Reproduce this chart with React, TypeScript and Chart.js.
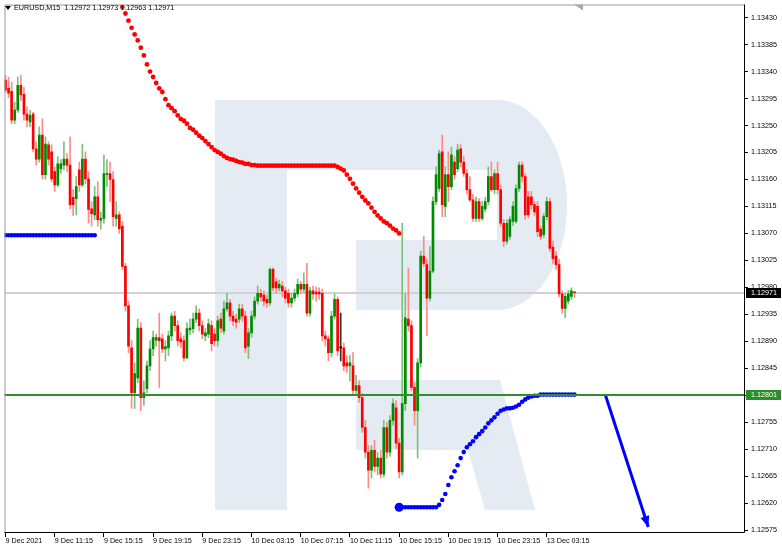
import React, { useEffect, useRef } from "react";
import { Chart, registerables } from "chart.js";
Chart.register(...registerables);

const HEADER_TEXT = "EURUSD,M15  1.12972 1.12973 1.12963 1.12971";
const TIME_LABELS = ["9 Dec 2021", "9 Dec 11:15", "9 Dec 15:15", "9 Dec 19:15", "9 Dec 23:15", "10 Dec 03:15", "10 Dec 07:15", "10 Dec 11:15", "10 Dec 15:15", "10 Dec 19:15", "10 Dec 23:15", "13 Dec 03:15"];
const TIME_LABEL_BARS = [0, 16, 32, 48, 64, 80, 96, 112, 128, 144, 160, 176];
const PRICE_TICKS = [1.12575, 1.1262, 1.12665, 1.1271, 1.12755, 1.128, 1.12845, 1.1289, 1.12935, 1.1298, 1.13025, 1.1307, 1.13115, 1.1316, 1.13205, 1.1325, 1.13295, 1.1334, 1.13385, 1.1343];

const OPEN = [1.13326,1.13312,1.13307,1.13259,1.13276,1.13317,1.13302,1.13269,1.13256,1.13269,1.13211,1.13194,1.13234,1.13168,1.13218,1.13206,1.13173,1.13151,1.13178,1.13184,1.13194,1.13184,1.1313,1.13128,1.13176,1.13151,1.13194,1.13161,1.13111,1.13101,1.13131,1.13092,1.13095,1.13168,1.1317,1.1316,1.13095,1.13101,1.13082,1.13015,1.12949,1.12879,1.12804,1.12829,1.12912,1.12796,1.12811,1.12849,1.12877,1.12892,1.12896,1.12894,1.12877,1.12879,1.12899,1.12932,1.12916,1.12894,1.12891,1.12862,1.12909,1.12911,1.12927,1.12937,1.12916,1.12899,1.12902,1.12916,1.12902,1.12891,1.12927,1.12907,1.12944,1.12954,1.12932,1.12927,1.12927,1.12944,1.12932,1.12882,1.12904,1.12932,1.12957,1.1297,1.12967,1.1296,1.12954,1.1301,1.12989,1.12979,1.12982,1.12974,1.1297,1.12954,1.12962,1.12969,1.12985,1.12977,1.12985,1.12937,1.12974,1.12972,1.12972,1.1297,1.12899,1.12894,1.12871,1.12932,1.1296,1.12879,1.12879,1.12854,1.12849,1.12849,1.12808,1.12816,1.12796,1.12746,1.12705,1.12675,1.12708,1.12681,1.12695,1.12668,1.12746,1.12705,1.12758,1.12779,1.1272,1.12672,1.12786,1.12927,1.12916,1.12813,1.12774,1.12854,1.13032,1.13018,1.12962,1.13007,1.13123,1.13145,1.13206,1.13115,1.13168,1.13148,1.13189,1.13178,1.13211,1.13189,1.1317,1.13143,1.13126,1.13095,1.13123,1.13095,1.13111,1.13123,1.13165,1.13143,1.1317,1.13143,1.13087,1.13057,1.13065,1.1309,1.1309,1.13145,1.13184,1.13165,1.13131,1.13131,1.13118,1.13115,1.13077,1.13068,1.13098,1.13123,1.13047,1.13032,1.13018,1.12969,1.12945,1.12957,1.12965,1.12972];
const HIGH = [1.13334,1.13331,1.13322,1.13289,1.13331,1.13334,1.13314,1.13281,1.13276,1.13272,1.13223,1.13248,1.13261,1.13231,1.13223,1.13218,1.13181,1.13198,1.13193,1.13223,1.13203,1.13231,1.13143,1.13165,1.13189,1.13219,1.13206,1.13173,1.13123,1.13148,1.13156,1.13106,1.13201,1.13193,1.13189,1.13173,1.13123,1.13106,1.1309,1.1302,1.12957,1.12891,1.12854,1.12927,1.12921,1.12824,1.12857,1.12891,1.12907,1.12902,1.12937,1.12902,1.12891,1.12907,1.12937,1.1294,1.12924,1.12904,1.12899,1.12921,1.12927,1.12937,1.12949,1.12944,1.12924,1.12911,1.12927,1.12924,1.12911,1.12932,1.12937,1.12957,1.1297,1.1296,1.1294,1.12935,1.12952,1.12952,1.1294,1.12911,1.1294,1.12964,1.12982,1.12977,1.12974,1.12967,1.13013,1.13013,1.12995,1.12992,1.1299,1.1298,1.12977,1.1297,1.12977,1.12994,1.1299,1.13004,1.1302,1.1298,1.12982,1.1298,1.12979,1.12977,1.12907,1.12899,1.1294,1.12969,1.12964,1.12937,1.12887,1.12866,1.12866,1.12871,1.12833,1.12824,1.12803,1.12758,1.12716,1.12716,1.12725,1.12705,1.12708,1.12758,1.12755,1.12766,1.12794,1.12791,1.12728,1.13087,1.1297,1.13012,1.12924,1.12821,1.12861,1.1304,1.13065,1.13027,1.13048,1.13131,1.13181,1.13209,1.13234,1.13181,1.13206,1.13214,1.13198,1.13219,1.13218,1.13198,1.13176,1.13165,1.13135,1.13131,1.13128,1.13123,1.1313,1.13181,1.13189,1.13176,1.13189,1.13151,1.13093,1.13093,1.13098,1.13123,1.13151,1.13189,1.13189,1.1317,1.1314,1.1314,1.13123,1.13123,1.13083,1.13103,1.1313,1.13128,1.13057,1.1304,1.13027,1.12974,1.1297,1.12975,1.12979,1.12973];
const LOW = [1.13306,1.13297,1.13253,1.13253,1.13272,1.13292,1.13259,1.13248,1.13248,1.13206,1.13184,1.13189,1.13161,1.1316,1.13184,1.13156,1.1314,1.13148,1.1317,1.13176,1.13173,1.13111,1.131,1.13101,1.1314,1.13148,1.13153,1.13087,1.13082,1.13093,1.13082,1.13077,1.13087,1.13148,1.13123,1.13082,1.13082,1.1307,1.1301,1.1294,1.12871,1.12778,1.12778,1.12821,1.12774,1.12783,1.12804,1.12841,1.12866,1.12882,1.12813,1.12871,1.12857,1.12866,1.12891,1.12907,1.12882,1.12879,1.12857,1.12861,1.12901,1.12904,1.12921,1.12907,1.12894,1.12891,1.12896,1.12874,1.12882,1.12882,1.12904,1.12902,1.1294,1.12924,1.12916,1.12912,1.12921,1.12924,1.12871,1.12861,1.12897,1.12927,1.12952,1.12957,1.12949,1.12947,1.1295,1.12974,1.1297,1.12974,1.12965,1.12954,1.12947,1.12947,1.12957,1.12964,1.1297,1.12972,1.12932,1.12932,1.1296,1.12957,1.1296,1.12891,1.12882,1.12857,1.12864,1.12927,1.12866,1.12857,1.12841,1.12838,1.12824,1.12799,1.12803,1.12788,1.12738,1.12695,1.12645,1.12662,1.12672,1.12667,1.12662,1.12663,1.12695,1.12698,1.1275,1.12711,1.12662,1.12667,1.12774,1.12907,1.12808,1.1275,1.12695,1.12847,1.13015,1.12899,1.12957,1.13004,1.13118,1.1314,1.13098,1.13098,1.13123,1.13143,1.1316,1.13173,1.13181,1.13165,1.13136,1.13123,1.1309,1.1309,1.1309,1.13092,1.13106,1.13118,1.1314,1.13136,1.13136,1.13082,1.13048,1.13052,1.1306,1.13083,1.13087,1.1314,1.13156,1.13093,1.13096,1.1311,1.131,1.13065,1.1306,1.13063,1.13093,1.1304,1.1302,1.1301,1.12964,1.12937,1.12929,1.12952,1.1296,1.12963];
const CLOSE = [1.13309,1.13304,1.13259,1.13276,1.13317,1.13301,1.13269,1.13259,1.13267,1.13211,1.13194,1.13234,1.13168,1.13219,1.13194,1.13161,1.13151,1.13186,1.13186,1.13194,1.13184,1.13118,1.13118,1.13148,1.13151,1.13194,1.13161,1.1311,1.13103,1.13131,1.13093,1.13095,1.1317,1.1317,1.1316,1.13098,1.13101,1.13078,1.13015,1.12949,1.12882,1.12804,1.12836,1.12912,1.12796,1.12804,1.12849,1.12877,1.12896,1.12896,1.12891,1.12877,1.12881,1.12899,1.12932,1.12916,1.12891,1.12889,1.12862,1.12911,1.12912,1.12927,1.12937,1.12916,1.12902,1.12904,1.12919,1.12886,1.12891,1.12924,1.12912,1.12944,1.12954,1.12932,1.12924,1.12922,1.12944,1.12932,1.12879,1.12904,1.12932,1.12957,1.1297,1.12964,1.12957,1.12954,1.1301,1.12979,1.12979,1.12985,1.12974,1.12962,1.12954,1.12962,1.1297,1.12985,1.12977,1.12985,1.12937,1.12974,1.12969,1.12969,1.12969,1.12899,1.12894,1.12871,1.12932,1.1296,1.12874,1.12879,1.12849,1.12849,1.12854,1.12808,1.12816,1.12796,1.12746,1.12705,1.12675,1.12708,1.12681,1.12695,1.12668,1.12746,1.12705,1.12758,1.12786,1.1272,1.12672,1.12786,1.12929,1.12916,1.12813,1.12774,1.12854,1.13032,1.1302,1.12962,1.13007,1.13123,1.13168,1.13203,1.13118,1.13168,1.13148,1.13201,1.13168,1.13209,1.13189,1.1317,1.13143,1.13126,1.13095,1.13123,1.13095,1.13115,1.13123,1.13165,1.13143,1.1317,1.13143,1.13087,1.13057,1.13087,1.13093,1.13115,1.13145,1.13184,1.13165,1.13101,1.13101,1.13118,1.13106,1.13073,1.13065,1.13098,1.13123,1.13045,1.13028,1.13018,1.12969,1.12945,1.12965,1.12969,1.12974,1.12971];

const RED_DOTS_START = 38;
const RED_DOTS = [1.13448,1.13437,1.13425,1.13413,1.13402,1.13392,1.1338,1.13367,1.13352,1.1334,1.13331,1.13321,1.13312,1.13306,1.13294,1.13284,1.13279,1.13274,1.13267,1.13261,1.13258,1.13253,1.13246,1.13243,1.13238,1.13233,1.13229,1.13224,1.13219,1.13214,1.13209,1.13206,1.13203,1.13199,1.13196,1.13194,1.13193,1.13191,1.13189,1.13188,1.13186,1.13186,1.13184,1.13184,1.13183,1.13183,1.13183,1.13183,1.13183,1.13183,1.13183,1.13183,1.13183,1.13183,1.13183,1.13183,1.13183,1.13183,1.13183,1.13183,1.13183,1.13183,1.13183,1.13183,1.13183,1.13183,1.13183,1.13183,1.13183,1.13183,1.13181,1.13178,1.13175,1.13168,1.13161,1.13153,1.13145,1.13138,1.13131,1.13125,1.1312,1.13113,1.13106,1.131,1.13095,1.1309,1.13087,1.13083,1.13078,1.13075,1.1307];
const BLUE_TOP_START = 0;
const BLUE_TOP = [1.13067,1.13067,1.13067,1.13067,1.13067,1.13067,1.13067,1.13067,1.13067,1.13067,1.13067,1.13067,1.13067,1.13067,1.13067,1.13067,1.13067,1.13067,1.13067,1.13067,1.13067,1.13067,1.13067,1.13067,1.13067,1.13067,1.13067,1.13067,1.13067,1.13067];
const BLUE_LOW_START = 128;
const BLUE_LOW = [1.12613,1.12613,1.12613,1.12613,1.12613,1.12613,1.12613,1.12613,1.12613,1.12613,1.12613,1.12613,1.12613,1.12617,1.12625,1.12635,1.1265,1.12663,1.12673,1.12683,1.12695,1.12705,1.12713,1.12718,1.12723,1.1273,1.12735,1.1274,1.12746,1.12753,1.12758,1.12763,1.12769,1.12774,1.12776,1.12778,1.12778,1.12779,1.12781,1.12784,1.12789,1.12793,1.12796,1.12798,1.12799,1.12799,1.12801,1.12801,1.12801,1.12801,1.12801,1.12801,1.12801,1.12801,1.12801,1.12801,1.12801,1.12801];

const SUPPORT_LEVEL = 1.12801;
const BID_PRICE = 1.12971;
const ARROW_BARS = [195, 209];
const ARROW_PRICES = [1.12801, 1.1258];

const FONT = "'Liberation Sans', Arial, sans-serif";
const UP = "#008a00";
const DOWN = "#ff0000";
const UP_WICK = "#7cc07c";
const DOWN_WICK = "#ff8a8a";

const decor = {
  id: "decor",
  beforeDatasetsDraw(chart: any) {
    const ctx = chart.ctx;
    const a = chart.chartArea;
    const ys = chart.scales.y;
    ctx.save();
    ctx.beginPath();
    ctx.rect(a.left, a.top, a.right - a.left, a.bottom - a.top);
    ctx.clip();
    ctx.fillStyle = "#e5ebf3";
    ctx.beginPath();
    ctx.moveTo(215, 100);
    ctx.lineTo(497, 100);
    ctx.ellipse(497, 205, 70, 105, 0, -Math.PI / 2, Math.PI / 2, false);
    ctx.lineTo(356, 310);
    ctx.lineTo(356, 240);
    ctx.lineTo(497, 240);
    ctx.lineTo(497, 170);
    ctx.lineTo(287, 170);
    ctx.lineTo(287, 510);
    ctx.lineTo(215, 510);
    ctx.closePath();
    ctx.fill();
    ctx.beginPath();
    ctx.moveTo(356, 380);
    ctx.lineTo(500, 380);
    ctx.lineTo(535, 510);
    ctx.lineTo(485, 510);
    ctx.lineTo(468, 450);
    ctx.lineTo(356, 450);
    ctx.closePath();
    ctx.fill();
    const by = Math.round(ys.getPixelForValue(BID_PRICE));
    ctx.strokeStyle = "#d2d2d2";
    ctx.lineWidth = 2;
    ctx.beginPath();
    ctx.moveTo(a.left, by);
    ctx.lineTo(a.right, by);
    ctx.stroke();
    ctx.restore();
  },
  afterDatasetsDraw(chart: any) {
    const ctx = chart.ctx;
    const a = chart.chartArea;
    const ys = chart.scales.y;
    const xs = chart.scales.x;
    ctx.save();
    const sy = Math.round(ys.getPixelForValue(SUPPORT_LEVEL));
    ctx.strokeStyle = "#2f8f2f";
    ctx.lineWidth = 2;
    ctx.beginPath();
    ctx.moveTo(a.left, sy);
    ctx.lineTo(a.right, sy);
    ctx.stroke();
    // arrow head
    const x1 = xs.getPixelForValue(ARROW_BARS[0]);
    const y1 = ys.getPixelForValue(ARROW_PRICES[0]);
    const x2 = xs.getPixelForValue(ARROW_BARS[1]);
    const y2 = ys.getPixelForValue(ARROW_PRICES[1]);
    const ang = Math.atan2(y2 - y1, x2 - x1);
    const L = 11, W = 4.5;
    ctx.fillStyle = "#0000ff";
    ctx.beginPath();
    ctx.moveTo(x2, y2);
    ctx.lineTo(x2 - L * Math.cos(ang) + W * Math.sin(ang), y2 - L * Math.sin(ang) - W * Math.cos(ang));
    ctx.lineTo(x2 - L * Math.cos(ang) - W * Math.sin(ang), y2 - L * Math.sin(ang) + W * Math.cos(ang));
    ctx.closePath();
    ctx.fill();
    ctx.restore();
  },
  afterDraw(chart: any) {
    const ctx = chart.ctx;
    const a = chart.chartArea;
    const ys = chart.scales.y;
    ctx.save();
    // frame
    ctx.lineWidth = 1;
    ctx.strokeStyle = "#9a9a9a";
    ctx.beginPath();
    ctx.moveTo(a.left + 0.5, a.bottom);
    ctx.lineTo(a.left + 0.5, a.top + 0.5);
    ctx.lineTo(a.right, a.top + 0.5);
    ctx.stroke();
    ctx.strokeStyle = "#000";
    ctx.beginPath();
    ctx.moveTo(a.right - 0.5, a.top);
    ctx.lineTo(a.right - 0.5, a.bottom - 0.5);
    ctx.lineTo(a.left, a.bottom - 0.5);
    ctx.stroke();
    // top-right shift marker
    ctx.fillStyle = "#a8a8a8";
    ctx.beginPath();
    ctx.moveTo(574, a.top);
    ctx.lineTo(583, a.top);
    ctx.lineTo(583, a.top + 6);
    ctx.closePath();
    ctx.fill();
    // header
    ctx.fillStyle = "#000";
    ctx.beginPath();
    ctx.moveTo(5, 6);
    ctx.lineTo(11, 6);
    ctx.lineTo(8, 10);
    ctx.closePath();
    ctx.fill();
    ctx.font = `7.2px ${FONT}`;
    ctx.textBaseline = "middle";
    ctx.textAlign = "left";
    ctx.fillText(HEADER_TEXT, 14, 8.5);
    // price boxes
    const boxes = [
      { v: BID_PRICE, bg: "#000000" },
      { v: SUPPORT_LEVEL, bg: "#2a8f2a" },
    ];
    for (const b of boxes) {
      const py = Math.round(ys.getPixelForValue(b.v));
      ctx.fillStyle = b.bg;
      ctx.fillRect(a.right + 1, py - 5, 35, 10);
      ctx.fillStyle = "#fff";
      ctx.fillText(b.v.toFixed(5), a.right + 6, py + 0.5);
    }
    ctx.restore();
  },
};

export default function App() {
  const ref = useRef<HTMLCanvasElement | null>(null);
  useEffect(() => {
    document.body.style.margin = "0";
    const canvas = ref.current;
    if (!canvas) return;
    const up = (i: number) => CLOSE[i] > OPEN[i];
    const down = (i: number) => CLOSE[i] < OPEN[i];
    const bodyColors = OPEN.map((_, i) => (up(i) ? UP : down(i) ? DOWN : "#000"));
    const wickColors = OPEN.map((_, i) => (up(i) ? UP_WICK : down(i) ? DOWN_WICK : "#333"));
    const chart = new Chart(canvas, {
      type: "bar",
      data: {
        datasets: [
          {
            type: "line",
            data: ARROW_BARS.map((b, k) => ({ x: b, y: ARROW_PRICES[k] })),
            borderColor: "#0000ff",
            borderWidth: 3,
            pointRadius: 0,
            order: 0,
            clip: false,
          } as any,
          {
            type: "line",
            data: RED_DOTS.map((v, k) => ({ x: RED_DOTS_START + k, y: v })),
            showLine: false,
            pointRadius: 2.4,
            pointBackgroundColor: "#ff0000",
            pointBorderWidth: 0,
            order: 0,
          } as any,
          {
            type: "line",
            data: BLUE_TOP.map((v, k) => ({ x: BLUE_TOP_START + k, y: v })),
            showLine: false,
            pointRadius: 2.3,
            pointBackgroundColor: "#0000ff",
            pointBorderWidth: 0,
            order: 0,
          } as any,
          {
            type: "line",
            data: BLUE_LOW.map((v, k) => ({ x: BLUE_LOW_START + k, y: v })),
            showLine: false,
            pointRadius: BLUE_LOW.map((_, k) => (k === 0 ? 4.5 : 2.3)),
            pointBackgroundColor: "#0000ff",
            pointBorderWidth: 0,
            order: 0,
          } as any,
          {
            type: "bar",
            data: OPEN.map((o, i) => ({ x: i, y: [o, CLOSE[i]] })),
            backgroundColor: bodyColors,
            barThickness: 2,
            minBarLength: 1,
            grouped: false,
            order: 1,
          } as any,
          {
            type: "bar",
            data: OPEN.map((_, i) => ({ x: i, y: [LOW[i], HIGH[i]] })),
            backgroundColor: wickColors,
            barThickness: 1,
            grouped: false,
            order: 2,
          } as any,
        ],
      },
      options: {
        animation: false,
        responsive: false,
        devicePixelRatio: 1,
        layout: { padding: { left: 1, top: 2, right: 0, bottom: 0 } },
        plugins: { legend: { display: false }, tooltip: { enabled: false } },
        events: [],
        scales: {
          x: {
            type: "linear",
            min: -0.32,
            max: 240.45,
            offset: false,
            grid: { drawOnChartArea: false, drawTicks: true, tickLength: 4, color: "#000", offset: false },
            border: { display: false },
            afterBuildTicks: (s: any) => {
              s.ticks = TIME_LABEL_BARS.map((v) => ({ value: v }));
            },
            afterFit: (s: any) => {
              s.height = 18;
              s.paddingLeft = 0;
              s.paddingRight = 0;
            },
            ticks: {
              autoSkip: false,
              maxRotation: 0,
              minRotation: 0,
              align: "start",
              padding: 0,
              color: "#000",
              font: { family: FONT, size: 7.2 },
              callback: (v: any) => {
                const k = TIME_LABEL_BARS.indexOf(Number(v));
                return k >= 0 ? TIME_LABELS[k] : "";
              },
            },
          } as any,
          y: {
            type: "linear",
            position: "right",
            min: 1.1257,
            max: 1.13452,
            grid: { drawOnChartArea: false, drawTicks: true, tickLength: 3, color: "#000" },
            border: { display: false },
            afterBuildTicks: (s: any) => {
              s.ticks = PRICE_TICKS.map((v) => ({ value: v }));
            },
            afterFit: (s: any) => {
              s.width = 37;
              s.paddingTop = 0;
              s.paddingBottom = 0;
            },
            ticks: {
              autoSkip: false,
              padding: 3,
              color: "#000",
              font: { family: FONT, size: 7.2 },
              callback: (v: any) => Number(v).toFixed(5),
            },
          } as any,
        },
      },
      plugins: [decor],
    });
    return () => chart.destroy();
  }, []);
  return (
    <div style={{ position: "absolute", left: 0, top: 0, width: 782, height: 551, background: "#fff" }}>
      <canvas ref={ref} width={782} height={551} style={{ display: "block" }} />
    </div>
  );
}
